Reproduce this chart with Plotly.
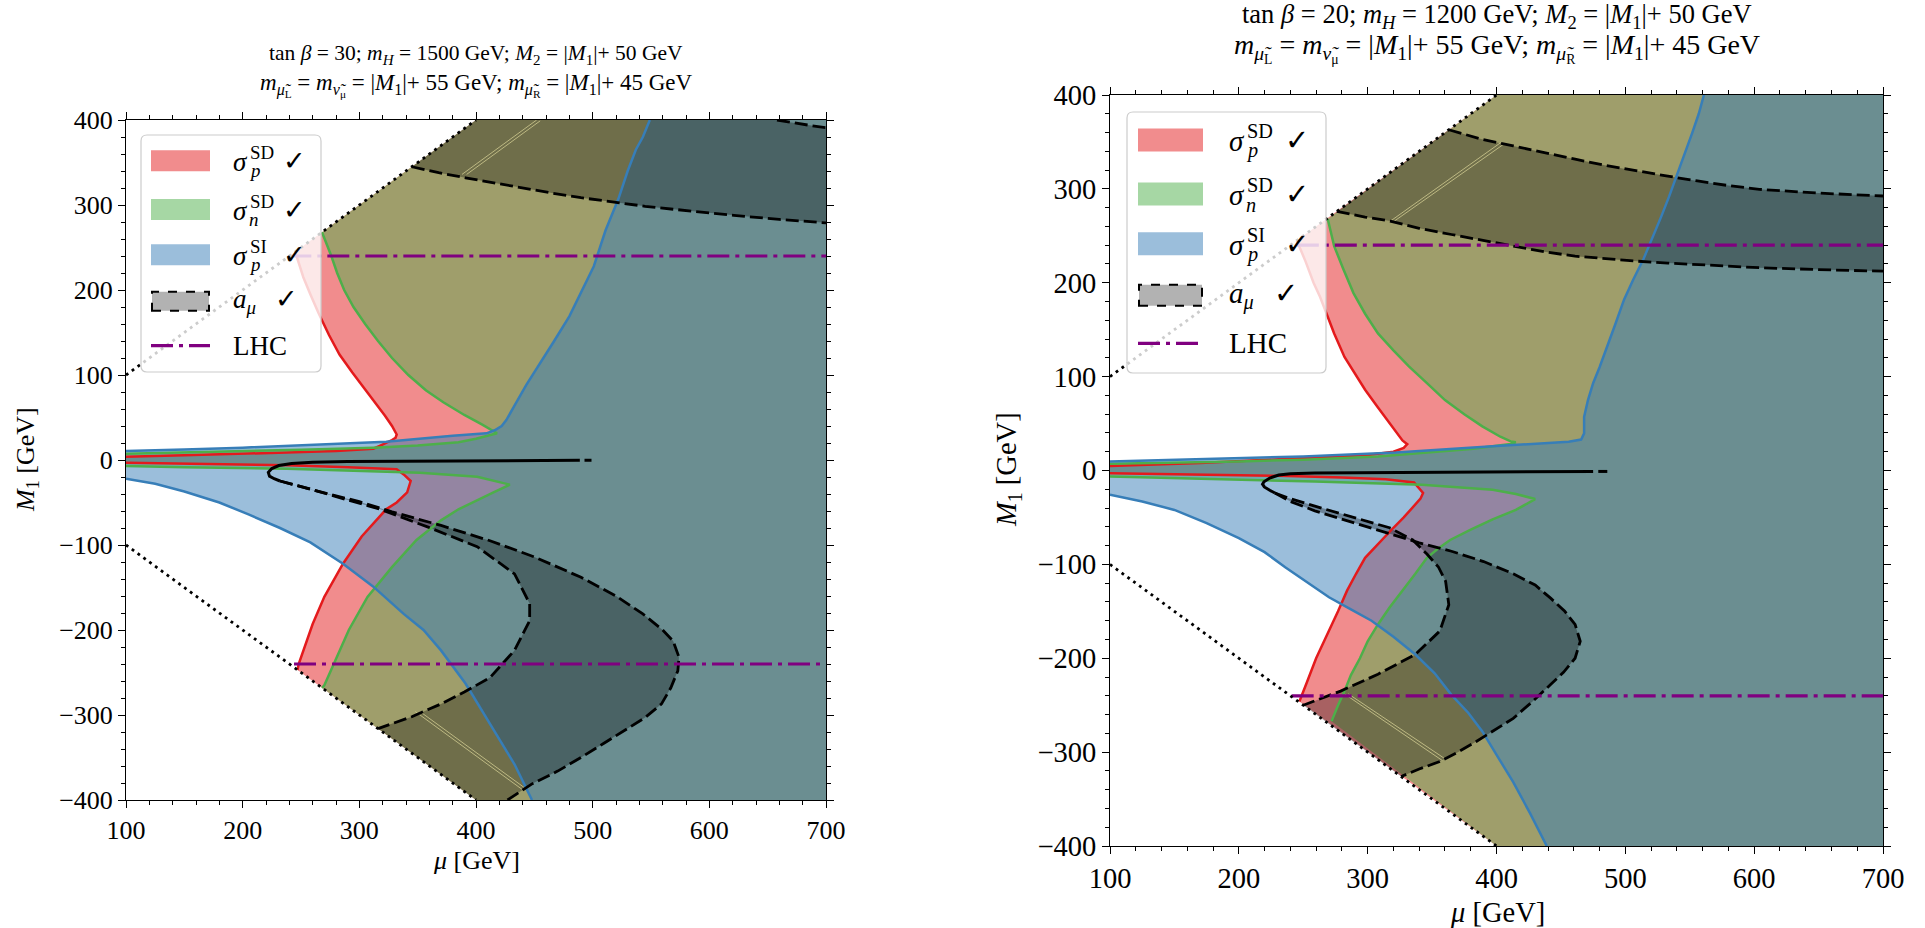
import plotly.graph_objects as go

W, H = 1925, 928

# ---------------- data: left panel (tan beta = 30) ----------------
L_red_up = [(245,245),(248,232),(252,215),(258,195),(265,173),(274,147),(283,124),(294,103),(305,83),(315,66),(322,52),(328,40),(332,30),(331,26),(328,23.5),(318,17),(312,13.3),(280,10.5),(238,8.6),(200,7.2),(150,5.5),(100,3.9)]
L_red_lo = [(100,-3.1),(150,-4.2),(238,-6.3),(290,-8.5),(320,-10),(332,-11),(338,-17),(344,-24.7),(341,-38),(332,-50),(323,-58),(317,-67),(302,-90),(286,-122),(270,-161),(260,-193),(252,-224),(248,-240),(247,-247)]
L_green_up = [(268,268),(272,255),(276,240),(281,220),(287,200),(295,180),(305,160),(316,140),(328,120),(342,100),(357,82),(372,68),(390,53),(405,42),(412,36),(418,31.5),(400,25),(385,21),(350,17),(312,14.5),(250,12),(200,10.5),(150,9),(100,7.5)]
L_green_lo = [(100,-7),(150,-8.5),(238,-10.2),(300,-12.5),(352,-14.9),(401,-19.7),(415,-24),(429,-29),(415,-38),(401,-47),(385,-58),(370,-71),(349,-94),(328,-126),(307,-161),(291,-200),(278,-240),(270,-265),(268,-268)]
L_blue_up = [(549,400),(543,380),(537,365),(530,340),(522,307),(511,270),(501,228),(491,200),(480,169),(467,140),(454,111),(443,88),(433,64),(426,47),(422,40),(416,35),(409,31.4),(380,28.5),(323,21.6),(250,17),(200,14.5),(150,12.5),(100,10.6)]
L_blue_lo = [(100,-22),(125,-28),(150,-37),(180,-50),(205,-64),(232,-80),(258,-97),(286,-122),(312,-149),(338,-181),(355,-200),(370,-224),(391,-263),(412,-310),(433,-358),(448,-400)]
L_amu_tip = [(489,-0.4),(470,-0.5),(430,-0.7),(380,-1.0),(330,-1.4),(290,-1.9),(260,-2.7),(242,-4),(231,-6.5),(225,-10),(222,-14.5),(223,-19),(227,-22),(232,-24.7)]
L_amu_tail = [(493,-0.3),(499,-0.3)]
L_amu_inner = [(232,-24.7),(255,-33),(290,-47),(318,-58),(359,-79),(401,-102),(433,-134),(446,-169),(446,-189),(433,-224),(412,-256),(390,-273),(370,-287),(345,-302),(316,-316)]
L_amu_outer = [(232,-24.7),(265,-37),(300,-49),(328,-61),(370,-77),(412,-95),(450,-114),(490,-138),(520,-160),(543,-181),(560,-200),(569,-213),(574,-232),(573,-248),(567,-268),(559,-287),(545,-303),(527,-318),(510,-333),(490,-350),(470,-366),(448,-381),(427,-400)]
L_amu_hi_lower = [(345,345),(368,338),(391,332),(415,326),(438,320),(465,314),(490,308.6),(522,302.7),(545,298.5),(569,295),(595,291),(621,287.8),(660,283),(700,279)]
L_amu_hi_upper = [(658,400),(666,398),(674,396),(687,393.5),(700,391)]
L_faint = [[(388,336),(452,400)], [(392,336),(455,399)], [(348,-296),(441,-389)], [(352,-296),(444,-388)]]
L_lhc = [240, -240]
L_lhc_start = [240, 244]

# ---------------- data: right panel (tan beta = 20) ----------------
R_red_up = [(245,245),(252,222),(258,200),(263,185),(267,171),(274,146),(282,121),(290,103),(298,86),(308,67),(317,50),(323,40),(327,32),(330.7,28),(328,24),(320,20),(310,18),(300,16.5),(231,12),(170,8),(100,4.9)]
R_red_lo = [(100,-2.8),(160,-4),(231,-5.7),(280,-7.5),(314,-9.2),(336,-12.7),(343,-24),(341,-30),(336,-38),(328,-50),(320,-61),(311,-74),(304,-85),(298,-93),(291,-110),(284,-128),(277,-150),(270,-171),(265,-186),(260,-200),(253,-225),(247,-246)]
R_green_up = [(269,268),(274,239),(281,215),(289,189),(298,167),(308,146),(320,128),(332,111),(346,93),(360,75),(375,60),(389,47),(403,36),(411,31),(415,30),(411,28.3),(380,23),(308,14.8),(250,11.5),(200,9.7),(100,7.1)]
R_green_lo = [(100,-6.4),(180,-9),(259,-11.7),(342,-15.2),(397,-20.5),(415,-25),(430,-30.4),(415,-42),(397,-52),(380,-63),(364,-74),(354,-84),(346,-93),(337,-110),(327,-128),(317,-146),(308,-164),(300,-182),(294,-200),(287,-218),(282,-235),(277,-250),(272,-267)]
R_blue_up = [(561,400),(557,380),(552,360),(546,337),(540,314),(534,292),(528,271),(521,248),(514,225),(506,203),(499,182),(492,155),(485,128),(480,110),(475,93),(471,75),(468,57),(468,45),(468,39.5),(465.7,33),(456,30.7),(400,26),(322,19.1),(250,15),(200,13),(100,9.5)]
R_blue_lo = [(100,-25.8),(125,-33),(150,-42),(175,-56),(200,-72),(220,-87),(236,-103),(252,-118),(270,-135),(287,-148),(303,-160),(320,-177),(337,-196),(352,-216),(365,-239),(378,-258),(389,-278),(401,-305),(413,-332),(426,-365),(439,-400)]
R_amu_tip = [(475,-1),(440,-1.2),(400,-1.4),(350,-1.7),(300,-2.1),(259,-2.6),(240,-3.5),(231,-4.8),(224,-8),(219.5,-12),(218.4,-14.5),(219.8,-17.5),(224,-21),(228,-24)]
R_amu_tail = [(479,-1),(486,-1)]
R_amu_inner = [(228,-24),(240,-30),(259,-38),(290,-50),(317,-61),(335,-74),(346,-89),(355,-103),(360.5,-118),(363,-143),(356,-171),(337,-196),(308,-217),(279,-235),(250,-250)]
R_amu_outer = [(228,-24),(240,-33),(259,-43),(290,-56),(317,-68),(340,-77),(365,-86),(390,-97),(413,-110),(430,-122),(442,-136),(453,-150),(461,-164),(465,-182),(461,-200),(452,-215),(442,-228),(428,-246),(413,-264),(398,-277),(384,-289),(370,-300),(356,-310),(340,-318),(326,-326)]
R_amu_hi_lower = [(276,276),(298,270),(317.5,265.7),(340,258),(365,251.4),(390,245),(413,239),(437,233),(461,228.3),(485,225.5),(509,223),(533,221),(556,219.4),(580,217.5),(604,216),(650,214),(700,212.3)]
R_amu_hi_upper = [(363,363),(388,353),(413,345.8),(437,338.5),(461,331.6),(485,325),(509,319),(533,313.5),(556,308.4),(580,303.5),(604,299.5),(650,295.5),(700,292.4)]
R_faint = [[(317,265),(403,349)], [(320,265),(406,348)], [(282,-238),(358,-309)], [(285,-238),(361,-308)]]
R_lhc = [240, -240]
R_lhc_start = [245, 241]

DIAG_UP = [(100,100),(400,400)]
DIAG_LO = [(100,-100),(400,-400)]

# ---------------- styles ----------------
RED, GREEN, BLUE = '#e41a1c', '#4daf4a', '#377eb8'
RED_F, GREEN_F, BLUE_F = 'rgba(228,26,28,0.5)', 'rgba(77,175,74,0.5)', 'rgba(55,126,184,0.5)'
AMU_F = 'rgba(0,0,0,0.3)'
PURPLE = '#800080'
FONT = 'Liberation Serif, DejaVu Serif, serif'
LHC_DASH = '22px,6px,4px,6px'

fig = go.Figure()

def xy(pts):
    return [p[0] for p in pts], [p[1] for p in pts]

def fill(pts, color, ax):
    x, y = xy(pts)
    fig.add_trace(go.Scatter(x=x, y=y, fill='toself', fillcolor=color, mode='lines',
                             line=dict(width=0), hoverinfo='skip', showlegend=False,
                             xaxis=ax[0], yaxis=ax[1]))

def line(pts, color, width, dash, ax):
    x, y = xy(pts)
    fig.add_trace(go.Scatter(x=x, y=y, mode='lines', line=dict(color=color, width=width, dash=dash),
                             hoverinfo='skip', showlegend=False, xaxis=ax[0], yaxis=ax[1]))

def panel(d, ax):
    red_poly = d['red_up'] + d['red_lo'] + [(400,-400),(700,-400),(700,400),(400,400)]
    green_poly = d['green_up'] + d['green_lo'] + [(400,-400),(700,-400),(700,400),(400,400)]
    blue_poly = d['blue_up'] + d['blue_lo'] + [(700,-400),(700,400)]
    fill(red_poly, RED_F, ax)
    fill(green_poly, GREEN_F, ax)
    fill(blue_poly, BLUE_F, ax)
    hi_poly = d['hi_lower'] + d['hi_upper'][::-1]
    if d['hi_upper'][0][1] >= 400:
        hi_poly = hi_poly + [(400,400)]
    fill(hi_poly, AMU_F, ax)
    lo_poly = d['outer'] + ([(400,-400)] if d['outer'][-1][1] <= -400 else []) + d['inner'][::-1]
    fill(lo_poly, AMU_F, ax)
    for seg in d['faint']:
        line(seg, 'rgba(215,210,150,0.75)', 1, 'solid', ax)
    for k, c in (('red_up', RED), ('red_lo', RED), ('green_up', GREEN), ('green_lo', GREEN),
                 ('blue_up', BLUE), ('blue_lo', BLUE)):
        line(d[k], c, 2.5, 'solid', ax)
    dash = '13px,5px'
    line(d['hi_lower'], 'black', 2.8, dash, ax)
    line(d['hi_upper'], 'black', 2.8, dash, ax)
    line(d['tip'], 'black', 3, 'solid', ax)
    line(d['tail'], 'black', 3, 'solid', ax)
    line(d['inner'], 'black', 2.8, dash, ax)
    line(d['outer'], 'black', 2.8, dash, ax)
    for yv, x0 in zip(d['lhc'], d['lhc_start']):
        line([(x0, yv), (700, yv)], PURPLE, 3.2, LHC_DASH, ax)
    line(DIAG_UP, 'black', 2.8, '2.8px,4.4px', ax)
    line(DIAG_LO, 'black', 2.8, '2.8px,4.4px', ax)

panel(dict(red_up=L_red_up, red_lo=L_red_lo, green_up=L_green_up, green_lo=L_green_lo,
           blue_up=L_blue_up, blue_lo=L_blue_lo, tip=L_amu_tip, tail=L_amu_tail,
           inner=L_amu_inner, outer=L_amu_outer, hi_lower=L_amu_hi_lower, hi_upper=L_amu_hi_upper,
           faint=L_faint, lhc=L_lhc, lhc_start=L_lhc_start), ('x', 'y'))
panel(dict(red_up=R_red_up, red_lo=R_red_lo, green_up=R_green_up, green_lo=R_green_lo,
           blue_up=R_blue_up, blue_lo=R_blue_lo, tip=R_amu_tip, tail=R_amu_tail,
           inner=R_amu_inner, outer=R_amu_outer, hi_lower=R_amu_hi_lower, hi_upper=R_amu_hi_upper,
           faint=R_faint, lhc=R_lhc, lhc_start=R_lhc_start), ('x2', 'y2'))

# ---------------- axes (positions in screen pixels) ----------------
def px(x): return x / W
def py(y): return 1 - y / H

L_box = (126, 120, 826, 800)
R_box = (1110, 95, 1883, 846)

def axis(domain, rng, dtick, size, anchor):
    return dict(domain=domain, range=rng, dtick=dtick, tick0=0, showgrid=False, zeroline=False,
                showline=True, linecolor='black', linewidth=1, mirror='allticks',
                ticks='outside', ticklen=7, tickwidth=1.2, tickcolor='black', automargin=False,
                minor=dict(dtick=20, ticks='outside', ticklen=4, tickwidth=1, tickcolor='black'),
                tickfont=dict(family=FONT, size=size, color='black'), anchor=anchor,
                fixedrange=True)

fig.update_layout(
    width=W, height=H, margin=dict(l=0, r=0, t=0, b=0, autoexpand=False),
    paper_bgcolor='white', plot_bgcolor='white', showlegend=False,
    xaxis=axis([px(L_box[0]), px(L_box[2])], [100, 700], 100, 26, 'y'),
    yaxis=axis([py(L_box[3]), py(L_box[1])], [-400, 400], 100, 26, 'x'),
    xaxis2=axis([px(R_box[0]), px(R_box[2])], [100, 700], 100, 28.5, 'y2'),
    yaxis2=axis([py(R_box[3]), py(R_box[1])], [-400, 400], 100, 28.5, 'x2'),
)

ann = []
def text(x, y, s, size, xanchor='center', angle=0):
    ann.append(dict(x=px(x), y=py(y), xref='paper', yref='paper', text=s, showarrow=False,
                    xanchor=xanchor, yanchor='middle', textangle=angle,
                    font=dict(family=FONT, size=size, color='black')))

T1 = 'tan <i>β</i> = {tb}; <i>m<sub>H</sub></i> = {mh} GeV; <i>M</i><sub>2</sub> = |<i>M</i><sub>1</sub>|+ 50 GeV'
T2 = ('<i>m</i><sub><i>μ̃</i><sub>L</sub></sub> = <i>m</i><sub><i>ν̃</i><sub>μ</sub></sub> = '
      '|<i>M</i><sub>1</sub>|+ 55 GeV; <i>m</i><sub><i>μ̃</i><sub>R</sub></sub> = |<i>M</i><sub>1</sub>|+ 45 GeV')
# titles
text(476, 54, T1.format(tb=30, mh=1500), 21.5)
text(476, 85, T2, 23)
text(1497, 16, T1.format(tb=20, mh=1200), 26.5)
text(1497, 48, T2, 28)
# axis titles
text(476, 860, '<i>μ</i> [GeV]', 26)
text(27, 460, '<i>M</i><sub>1</sub> [GeV]', 26, angle=-90)
text(1497, 912, '<i>μ</i> [GeV]', 28.5)
text(1008, 470, '<i>M</i><sub>1</sub> [GeV]', 28.5, angle=-90)

# ---------------- manual legends ----------------
shapes = []
def rrect(x0, y0, x1, y1, r):
    p = lambda x, y: f'{px(x):.6f},{py(y):.6f}'
    path = (f'M {p(x0+r,y0)} L {p(x1-r,y0)} Q {p(x1,y0)} {p(x1,y0+r)} L {p(x1,y1-r)} '
            f'Q {p(x1,y1)} {p(x1-r,y1)} L {p(x0+r,y1)} Q {p(x0,y1)} {p(x0,y1-r)} '
            f'L {p(x0,y0+r)} Q {p(x0,y0)} {p(x0+r,y0)} Z')
    shapes.append(dict(type='path', path=path, xref='paper', yref='paper',
                       fillcolor='rgba(255,255,255,0.8)', line=dict(color='#cccccc', width=1.2)))

def patch(x0, x1, yc, h, color, dashed=False):
    shapes.append(dict(type='rect', xref='paper', yref='paper', x0=px(x0), x1=px(x1),
                       y0=py(yc + h/2), y1=py(yc - h/2), fillcolor=color,
                       line=dict(color='black' if dashed else color, width=2 if dashed else 0,
                                 dash='dash' if dashed else 'solid')))

def legend(box, px0, px1, rows, ph, tx, cx, fs, sc):
    rrect(*box, 6)
    patch(px0, px1, rows[0], ph, RED_F)
    patch(px0, px1, rows[1], ph, GREEN_F)
    patch(px0, px1, rows[2], ph, BLUE_F)
    patch(px0 + 1, px1 - 1, rows[3], ph - 2, AMU_F, dashed=True)
    shapes.append(dict(type='line', xref='paper', yref='paper', x0=px(px0), x1=px(px1),
                       y0=py(rows[4]), y1=py(rows[4]), line=dict(color=PURPLE, width=3.2, dash=LHC_DASH)))
    for r, sup, sub in ((rows[0], 'SD', 'p'), (rows[1], 'SD', 'n'), (rows[2], 'SI', 'p')):
        text(tx, r + 1*sc, '<i>σ</i>', fs, 'left')
        text(tx + 17*sc, r - 8*sc, sup, fs * 0.7, 'left')
        text(tx + 16*sc, r + 10*sc, f'<i>{sub}</i>', fs * 0.7, 'left')
        text(cx, r, '✓', fs, 'left')
    text(tx, rows[3], '<i>a</i><sub><i>μ</i></sub>', fs, 'left')
    text(tx + 42*sc, rows[3] - 2*sc, '✓', fs, 'left')
    text(tx, rows[4], 'LHC', fs, 'left')

legend((141, 135, 321, 372), 151, 210, [160.8, 209.5, 254.8, 301.3, 345.7], 21, 231, 281, 27, 1.0)
legend((1127, 112, 1326, 373), 1138, 1203, [140, 194, 243.7, 295.3, 343.3], 23, 1227, 1283, 29, 1.08)

fig.update_layout(annotations=ann, shapes=shapes)
fig.write_html('out.html', config={'displayModeBar': False},
               post_script="document.body.style.margin='0px';document.body.style.overflow='hidden';")
